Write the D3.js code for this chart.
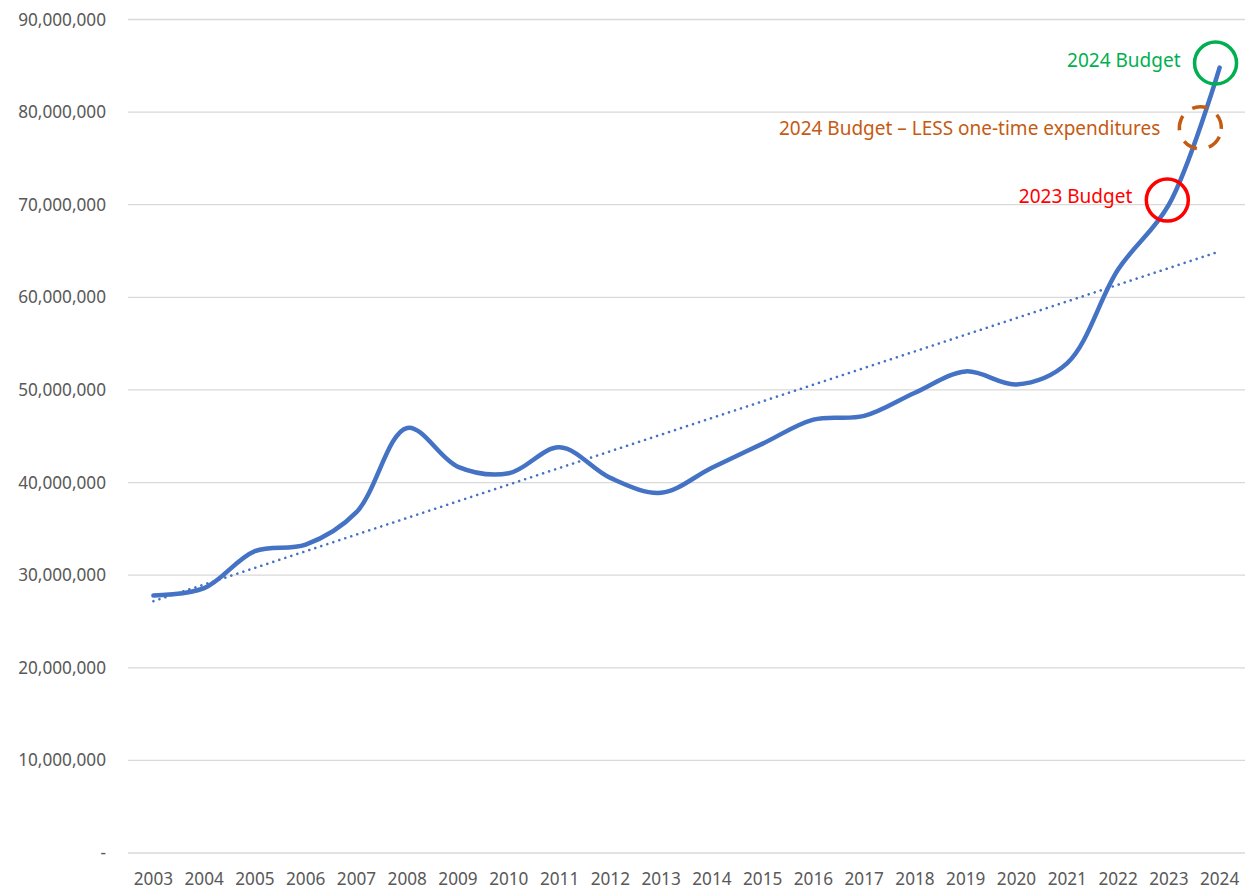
<!DOCTYPE html>
<html>
<head>
<meta charset="utf-8">
<script src="https://cdn.jsdelivr.net/npm/d3@7"></script>
<style>
  body { margin: 0; background: #fff; }
  text { font-family: "Noto Sans", "Open Sans", sans-serif; }
</style>
</head>
<body>
<svg></svg>
<script>
// yearly totals
var years = [2003,2004,2005,2006,2007,2008,2009,2010,2011,2012,2013,2014,2015,2016,2017,2018,2019,2020,2021,2022,2023,2024];
var totals = [27800000,28600000,32600000,33300000,36800000,45900000,41700000,41000000,43800000,40500000,38900000,41600000,44200000,46800000,47200000,49700000,52000000,50600000,52900000,63000000,70000000,84800000];
var yTicks = [0,10000000,20000000,30000000,40000000,50000000,60000000,70000000,80000000,90000000];

// callouts: label, circle position (year, value), colour
var noteLabels = ["2024 Budget", "2024 Budget \u2013 LESS one-time expenditures", "2023 Budget"];
var noteYears = [2023.92, 2023.62, 2022.97];
var noteValues = [85300000, 78300000, 70500000];
var noteColors = ["#00B050", "#C55A11", "#FF0000"];

var screen = {width:1254, height:890}
var svg = d3.select("svg")
            .attr("width", screen.width)
            .attr("height", screen.height)

var x = d3.scaleLinear().domain([2002.5, 2024.5]).range([128, 1245])
var y = d3.scaleLinear().domain([0, 90000000]).range([853, 19.5])

// gridlines
svg.selectAll("line.grid")
   .data(yTicks)
   .enter()
   .append("line")
   .attr("x1", 128).attr("x2", 1245)
   .attr("y1", function(d){ return y(d) })
   .attr("y2", function(d){ return y(d) })
   .attr("stroke", "#D9D9D9")
   .attr("stroke-width", 1.3)

// y labels
var fmt = d3.format(",")
svg.selectAll("text.ylab")
   .data(yTicks)
   .enter()
   .append("text")
   .attr("x", 106)
   .attr("y", function(d){ return y(d) })
   .attr("dy", "0.35em")
   .attr("text-anchor", "end")
   .attr("font-size", 17.2)
   .attr("fill", "#595959")
   .text(function(d){ return d == 0 ? "-" : fmt(d) })

// x labels
svg.selectAll("text.xlab")
   .data(years)
   .enter()
   .append("text")
   .attr("x", function(d){ return x(d) })
   .attr("y", 879)
   .attr("dy", "0.35em")
   .attr("text-anchor", "middle")
   .attr("font-size", 17.2)
   .attr("fill", "#595959")
   .text(function(d){ return d })

var pts = years.map(function(yr, i){ return [yr, totals[i]] })

// linear trendline (least squares, like Excel)
var mx = d3.mean(years), my = d3.mean(totals)
var sxy = d3.sum(pts, function(p){ return (p[0]-mx)*(p[1]-my) })
var sxx = d3.sum(years, function(v){ return (v-mx)*(v-mx) })
var slope = sxy/sxx, icpt = my - slope*mx
var trend = [years[0], years[years.length-1]].map(function(yr){ return [yr, icpt + slope*yr] })

var line = d3.line()
             .x(function(d){ return x(d[0]) })
             .y(function(d){ return y(d[1]) })

svg.append("path")
   .attr("d", line(trend))
   .attr("fill", "none")
   .attr("stroke", "#4472C4")
   .attr("stroke-width", 2.6)
   .attr("stroke-linecap", "round")
   .attr("stroke-dasharray", "0.01 6.3")

svg.append("path")
   .attr("d", line.curve(d3.curveCatmullRom.alpha(0.5))(pts))
   .attr("fill", "none")
   .attr("stroke", "#4472C4")
   .attr("stroke-width", 4.5)
   .attr("stroke-linecap", "round")

// callouts
noteLabels.forEach(function(lab, i){
  var cx = x(noteYears[i]), cy = y(noteValues[i])
  svg.append("circle")
     .attr("cx", cx).attr("cy", cy).attr("r", 21)
     .attr("fill", "none")
     .attr("stroke", noteColors[i])
     .attr("stroke-width", 3.5)
     .attr("stroke-dasharray", i == 1 ? "15 12" : null)
     .attr("transform", i == 1 ? "rotate(25," + cx + "," + cy + ")" : null)
  svg.append("text")
     .attr("x", cx - (i == 1 ? 40 : 35))
     .attr("y", cy - (i == 0 ? 3 : i == 2 ? 4 : 0))
     .attr("dy", "0.35em")
     .attr("text-anchor", "end")
     .attr("font-size", 19)
     .attr("fill", noteColors[i])
     .text(lab)
})
</script>
</body>
</html>
